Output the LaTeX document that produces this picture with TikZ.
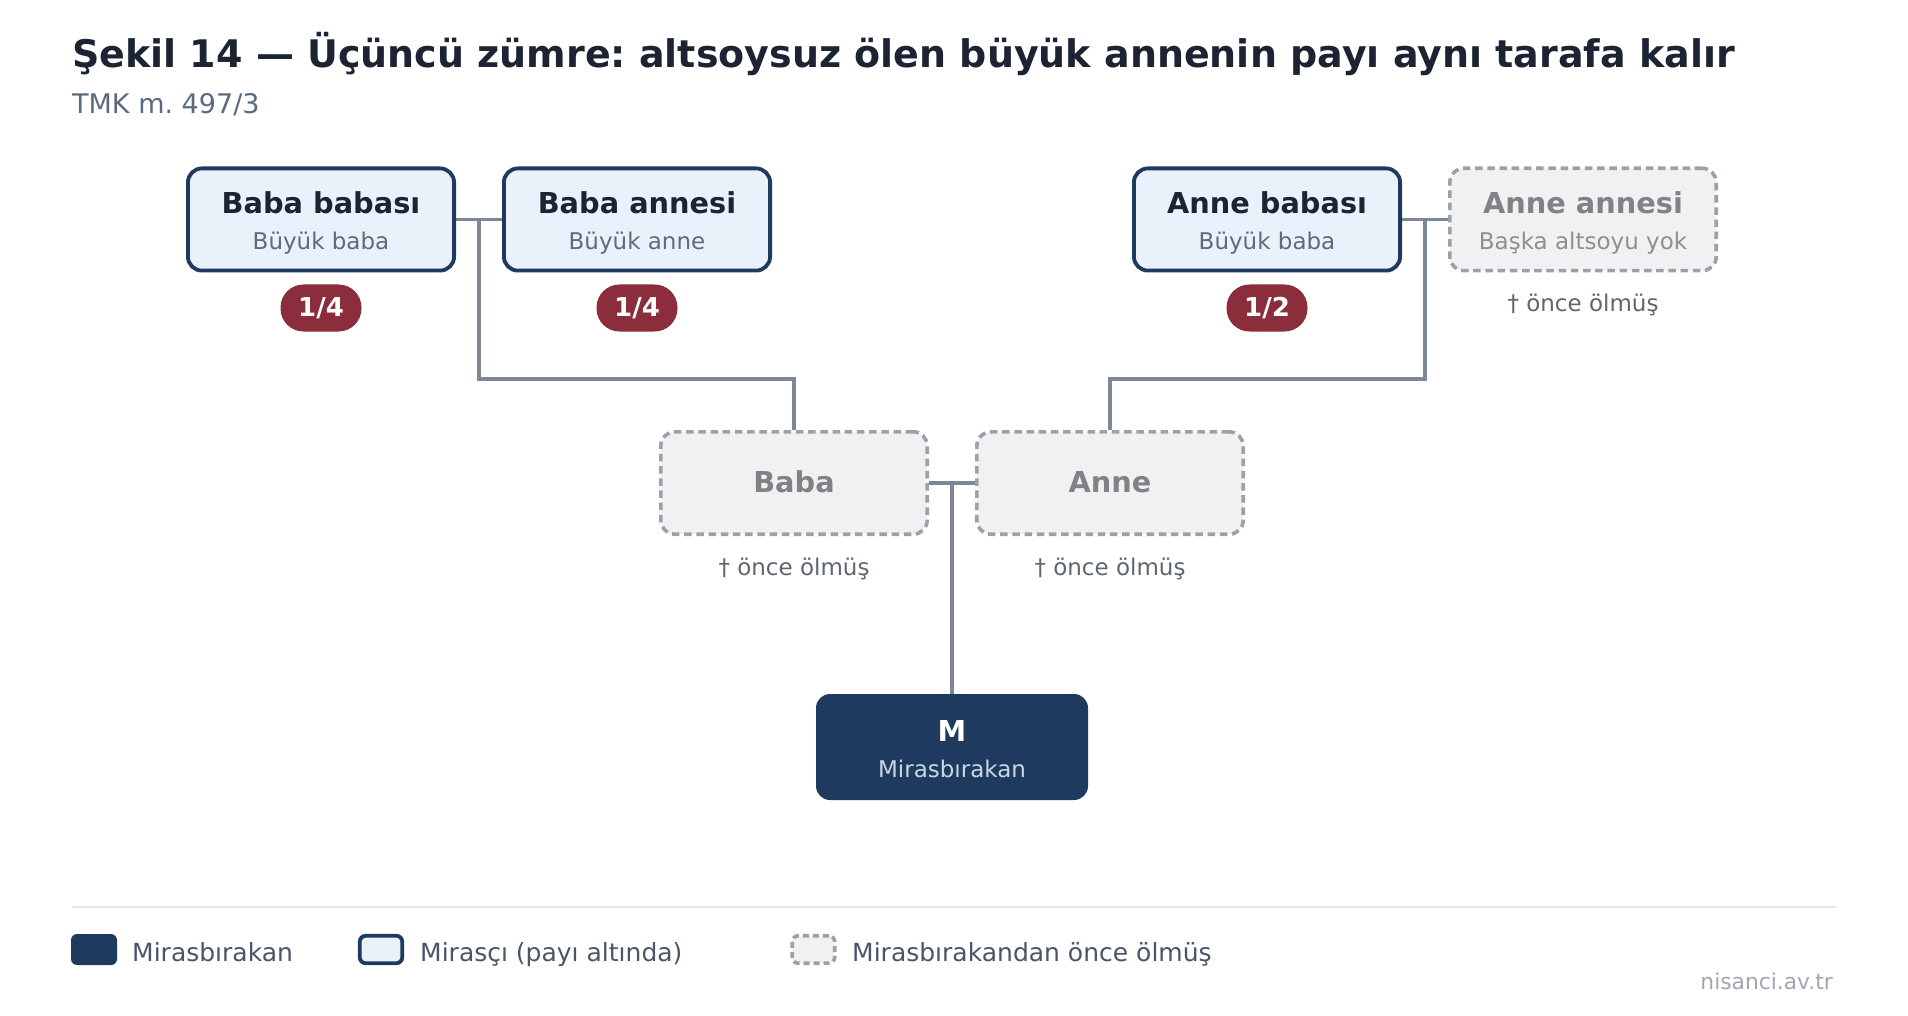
\documentclass[tikz,border=0pt]{standalone}
\usepackage{fontspec}
\setmainfont{DejaVu Sans}
\frenchspacing
\usetikzlibrary{calc}
\pgfdeclarelayer{background}
\pgfsetlayers{background,main}
\definecolor{ink}{HTML}{1C2434}
\definecolor{subgray}{HTML}{5A6A7E}
\definecolor{navy}{HTML}{1E3A5F}
\definecolor{heirfill}{HTML}{EAF1FA}
\definecolor{badge}{HTML}{8B2D3A}
\definecolor{linkgray}{HTML}{7D8796}
\definecolor{deadfill}{HTML}{F0F1F3}
\definecolor{deadline}{HTML}{9DA1A7}
\definecolor{deadtext}{HTML}{808286}
\definecolor{rolegray}{HTML}{5F6B7A}
\definecolor{notegray}{HTML}{5F6670}
\definecolor{mrole}{HTML}{C9D6E8}
\definecolor{legtext}{HTML}{4A5568}
\definecolor{rulegray}{HTML}{E2E5E9}
\definecolor{markgray}{HTML}{A0A7B2}

\begin{document}
\begin{tikzpicture}[%
  x=1pt,y=-1pt,
  heirbox/.style={rectangle,draw=navy,fill=heirfill,line width=3.8pt,rounded corners=14pt,
    minimum width=266.2pt,minimum height=102.2pt},
  deadbox/.style={rectangle,draw=deadline,fill=deadfill,line width=3.6pt,rounded corners=14pt,
    dash pattern=on 7.5pt off 4.7pt,minimum width=266.4pt,minimum height=102.4pt},
  mbox/.style={rectangle,fill=navy,rounded corners=14pt,minimum width=272pt,minimum height=106pt},
  pname/.style={anchor=base,inner sep=0pt,text=ink,font=\fontsize{28.8}{32}\selectfont\bfseries},
  prole/.style={anchor=base,inner sep=0pt,text=rolegray,font=\fontsize{23}{26}\selectfont},
  sharebadge/.style={rectangle,fill=badge,rounded corners=23pt,minimum width=81pt,minimum height=47pt,
    inner sep=0pt,text=white,font=\fontsize{26}{28}\selectfont\bfseries},
  deathnote/.style={anchor=base,inner sep=0pt,text=notegray,font=\fontsize{23}{26}\selectfont},
  kinline/.style={draw=linkgray,line width=3.2pt},
  keytext/.style={anchor=base west,inner sep=0pt,text=legtext,font=\fontsize{25}{28}\selectfont}]
    \useasboundingbox (0,0) rectangle (1908,1016);
    % Title
    \node[anchor=base west,inner sep=0pt,text=ink,font=\fontsize{38}{42}\selectfont\bfseries]
      (title) at (72,68) {Şekil 14 — Üçüncü zümre: altsoysuz ölen büyük annenin payı aynı tarafa kalır};
    \node[anchor=base west,inner sep=0pt,text=subgray,font=\fontsize{27}{30}\selectfont]
      (subtitle) at (72,114) {TMK m. 497/3};
    % Grandparents
    \node[heirbox] (bb) at (321,219.5) {};
    \node[pname] (bbname) at ([yshift=6.4pt]bb.center) {Baba babası};
    \node[prole] (bbrole) at ([yshift=-30.3pt]bb.center) {Büyük baba};
    \node[sharebadge] (bbshare) at (321,308) {1/4};
    \node[heirbox] (ba) at (637,219.5) {};
    \node[pname] (baname) at ([yshift=6.4pt]ba.center) {Baba annesi};
    \node[prole] (barole) at ([yshift=-30.3pt]ba.center) {Büyük anne};
    \node[sharebadge] (bashare) at (637,308) {1/4};
    \node[heirbox] (ab) at (1267,219.5) {};
    \node[pname] (abname) at ([yshift=6.4pt]ab.center) {Anne babası};
    \node[prole] (abrole) at ([yshift=-30.3pt]ab.center) {Büyük baba};
    \node[sharebadge] (abshare) at (1267,308) {1/2};
    \node[deadbox] (aa) at (1583,219.5) {};
    \node[pname,text=deadtext] (aaname) at ([yshift=6.4pt]aa.center) {Anne annesi};
    \node[prole,text=deadtext!90] (aarole) at ([yshift=-30.3pt]aa.center) {Başka altsoyu yok};
    \node[deathnote] (aanote) at (1583,311) {† önce ölmüş};
    % Parents
    \node[deadbox] (baba) at (794,483) {};
    \node[pname,text=deadtext] (babaname) at ([yshift=-9.5pt]baba.center) {Baba};
    \node[deathnote] (babanote) at (794,575) {† önce ölmüş};
    \node[deadbox] (anne) at (1110,483) {};
    \node[pname,text=deadtext] (annename) at ([yshift=-9.5pt]anne.center) {Anne};
    \node[deathnote] (annenote) at (1110,575) {† önce ölmüş};
    % Deceased
    \node[mbox] (m) at (952,747) {};
    \node[pname,text=white] (mname) at ([yshift=5.1pt]m.center) {M};
    \node[prole,text=mrole] (mrole) at ([yshift=-30.3pt]m.center) {Mirasbırakan};
    % Lines
    \begin{pgfonlayer}{background}
      \fill[white] (0,0) rectangle (1908,1016);
      \coordinate (pfork) at ($(bb.east)!0.5!(ba.west)$);
      \coordinate (mfork) at ($(ab.east)!0.5!(aa.west)$);
      \coordinate (cfork) at ($(baba.east)!0.5!(anne.west)$);
      \draw[kinline] (bb.east) -- (ba.west);
      \draw[kinline] (pfork) -- ++(0,159.5) -| (baba.north);
      \draw[kinline] (ab.east) -- (aa.west);
      \draw[kinline] (mfork) -- ++(0,159.5) -| (anne.north);
      \draw[kinline] (baba.east) -- (anne.west);
      \draw[kinline] (cfork) -- (m.north);
    \end{pgfonlayer}
    % Legend
    \coordinate (rulel) at (72,907);
    \coordinate (ruler) at (1836,907);
    \draw[rulegray,line width=2pt] (rulel) -- (ruler);
    \node[mbox,minimum width=46pt,minimum height=31pt,rounded corners=6pt] (keym) at (94,949.5) {};
    \node[keytext] (keymtext) at (132,961) {Mirasbırakan};
    \node[heirbox,minimum width=42.5pt,minimum height=27.5pt,rounded corners=6pt] (keyh) at (381,949.5) {};
    \node[keytext] (keyhtext) at (420,961) {Mirasçı (payı altında)};
    \node[deadbox,minimum width=42.5pt,minimum height=27.5pt,rounded corners=6pt,dash pattern=on 6pt off 4pt] (keyd) at (813.5,949.5) {};
    \node[keytext] (keydtext) at (852,961) {Mirasbırakandan önce ölmüş};
    \node[anchor=base east,inner sep=0pt,text=markgray,font=\fontsize{21.8}{24}\selectfont]
      (mark) at (1833,989) {nisanci.av.tr};
\end{tikzpicture}
\end{document}
